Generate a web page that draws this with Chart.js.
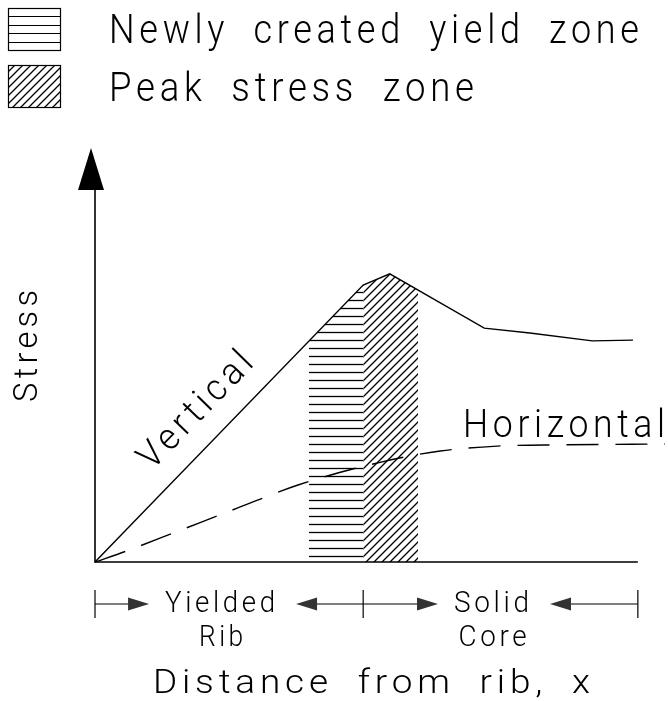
<!DOCTYPE html>
<html>
<head>
<meta charset="utf-8">
<script src="https://cdn.jsdelivr.net/npm/chart.js@4.4.1/dist/chart.umd.min.js"></script>
<style>
  html, body { margin: 0; padding: 0; background: #fff; }
  #wrap { width: 668px; height: 701px; }
</style>
</head>
<body>
<div id="wrap"><canvas id="stressChart"></canvas></div>
<script>
// stress vs distance from rib, chart units (x: 0..100 = axis length, y: 0..100 = arrow tip)
const verticalX = [0, 49.4, 54.3, 71.7, 80.1, 91.6, 99.1];
const verticalY = [0, 66.9, 69.6, 56.5, 55.3, 53.4, 53.6];
const horizontalX = [0, 5.9, 14.4, 26.2, 37.4, 52.9, 63.6, 74.1, 86.2, 105];
const horizontalY = [0, 2.7, 7.0, 13.0, 18.6, 24.2, 26.8, 28.0, 28.3, 28.5];
// hatched zones (top edge follows the vertical stress curve)
const yieldZoneX = [39.4, 49.4];
const yieldZoneY = [53.4, 66.9];
const peakZoneX = [49.4, 54.3, 59.5];
const peakZoneY = [66.9, 69.6, 65.7];
// dimension row under the axis
const regionBounds = [0, 49.4, 100];
const regionLabels = [['Yielded', 'Rib'], ['Solid', 'Core']];
const legendLabels = ['Newly created yield zone', 'Peak stress zone'];
const seriesLabels = ['Vertical', 'Horizontal'];
const xTitle = 'Distance from rib, x';
const yTitle = 'Stress';

const FONT = 'Roboto';
const canvas = document.getElementById('stressChart');

function makeHatch(kind) {
    const c = document.createElement('canvas');
    c.width = 8; c.height = 8;
    const g = c.getContext('2d');
    g.strokeStyle = '#000';
    g.lineWidth = 1.3;
    g.beginPath();
    if (kind === 'h') {
        g.moveTo(0, 4.5); g.lineTo(8, 4.5);
    } else {
        g.moveTo(-1, 9); g.lineTo(9, -1);
        g.moveTo(-1, 1); g.lineTo(1, -1);
        g.moveTo(7, 9); g.lineTo(9, 7);
    }
    g.stroke();
    return canvas.getContext('2d').createPattern(c, 'repeat');
}
const hHatch = makeHatch('h');
const dHatch = makeHatch('d');

function pts(xs, ys) {
    return xs.map((x, i) => ({ x: x, y: ys[i] }));
}

// plotter-style text: wide tracking and word gaps, fitted to the given width
function spaced(ctx, text, left, baseline, width, size) {
    ctx.save();
    ctx.font = '300 ' + size + 'px ' + FONT;
    ctx.letterSpacing = (size * 0.13) + 'px';
    ctx.wordSpacing = (size * 0.3) + 'px';
    ctx.textAlign = 'left';
    ctx.textBaseline = 'alphabetic';
    const w = ctx.measureText(text).width - size * 0.13;
    ctx.translate(left, baseline);
    ctx.scale(width / w, 1);
    ctx.fillText(text, 0, 0);
    ctx.restore();
}

function arrowHead(ctx, tipX, y, dir) {
    ctx.beginPath();
    ctx.moveTo(tipX, y);
    ctx.lineTo(tipX - dir * 21, y - 6.5);
    ctx.lineTo(tipX - dir * 21, y + 6.5);
    ctx.closePath();
    ctx.fill();
}

const decorations = {
    id: 'decorations',
    afterDraw(chart) {
        const ctx = chart.ctx;
        const xs = chart.scales.x, ys = chart.scales.y;
        const x0 = xs.getPixelForValue(0), y0 = ys.getPixelForValue(0);
        const tipY = ys.getPixelForValue(100);
        ctx.save();
        ctx.strokeStyle = '#000';
        ctx.fillStyle = '#000';
        ctx.lineWidth = 1.6;

        // axes
        ctx.beginPath();
        ctx.moveTo(x0, tipY + 40);
        ctx.lineTo(x0, y0);
        ctx.lineTo(xs.getPixelForValue(100), y0);
        ctx.stroke();
        ctx.beginPath();
        ctx.moveTo(x0 - 4, tipY);
        ctx.lineTo(x0 - 17, tipY + 42);
        ctx.lineTo(x0 + 9, tipY + 42);
        ctx.closePath();
        ctx.fill();

        // legend swatches
        ctx.lineWidth = 1.2;
        ctx.beginPath();
        for (let k = 1; k < 5; k++) {
            const yy = Math.round(8 + 42 * k / 5) + 0.5;
            ctx.moveTo(8, yy); ctx.lineTo(60, yy);
        }
        ctx.stroke();
        ctx.strokeRect(8.5, 8.5, 52, 42);
        ctx.fillStyle = dHatch;
        ctx.fillRect(8, 65, 52, 42);
        ctx.strokeRect(8.5, 65.5, 52, 42);
        ctx.fillStyle = '#000';
        spaced(ctx, legendLabels[0], 109, 43, 530, 40);
        spaced(ctx, legendLabels[1], 109, 101, 365, 40);

        // series labels
        const a = Math.atan2(ys.getPixelForValue(verticalY[1]) - y0, xs.getPixelForValue(verticalX[1]) - x0);
        ctx.save();
        ctx.translate(152, 471);
        ctx.rotate(a);
        spaced(ctx, seriesLabels[0], 0, 0, 148, 37);
        ctx.restore();
        spaced(ctx, seriesLabels[1], 463, 437, 202, 39);

        // axis titles
        ctx.save();
        ctx.translate(37, 402);
        ctx.rotate(-Math.PI / 2);
        spaced(ctx, yTitle, 0, 0, 112, 34);
        ctx.restore();
        spaced(ctx, xTitle, 153, 693, 437, 33);

        // dimension row
        const dy = 604;
        ctx.lineWidth = 1.2;
        const bx = regionBounds.map(v => xs.getPixelForValue(v));
        bx.forEach(px => {
            ctx.beginPath();
            ctx.moveTo(px, dy - 14);
            ctx.lineTo(px, dy + 14);
            ctx.stroke();
        });
        const widths = [[110, 44], [75, 68]];
        regionLabels.forEach((lab, i) => {
            const cx = (bx[i] + bx[i + 1]) / 2 - 9;
            const w1 = widths[i][0], w2 = widths[i][1];
            const l1 = cx - w1 / 2, r1 = cx + w1 / 2;
            const tipL = l1 - 16, tipR = r1 + 21;
            ctx.beginPath();
            ctx.moveTo(bx[i], dy); ctx.lineTo(tipL - 18, dy);
            ctx.moveTo(tipR + 18, dy); ctx.lineTo(bx[i + 1], dy);
            ctx.stroke();
            ctx.fillStyle = '#333';
            arrowHead(ctx, tipL, dy, 1);
            arrowHead(ctx, tipR, dy, -1);
            ctx.fillStyle = '#000';
            spaced(ctx, lab[0], l1, 612, w1, 30);
            spaced(ctx, lab[1], cx - w2 / 2 + 1, 646, w2, 30);
        });
        ctx.restore();
    }
};

new Chart(canvas, {
    type: 'line',
    data: {
        datasets: [
            {
                label: legendLabels[0],
                data: pts(yieldZoneX, yieldZoneY),
                fill: 'origin',
                backgroundColor: hHatch,
                borderColor: 'transparent',
                borderWidth: 0,
                pointRadius: 0
            },
            {
                label: legendLabels[1],
                data: pts(peakZoneX, peakZoneY),
                fill: 'origin',
                backgroundColor: dHatch,
                borderColor: 'transparent',
                borderWidth: 0,
                pointRadius: 0
            },
            {
                label: seriesLabels[0],
                data: pts(verticalX, verticalY),
                borderColor: '#000',
                borderWidth: 1.4,
                pointRadius: 0,
                fill: false
            },
            {
                label: seriesLabels[1],
                data: pts(horizontalX, horizontalY),
                borderColor: '#000',
                borderWidth: 1.4,
                borderDash: [32, 17],
                cubicInterpolationMode: 'monotone',
                pointRadius: 0,
                fill: false
            }
        ]
    },
    options: {
        responsive: true,
        maintainAspectRatio: false,
        animation: false,
        clip: false,
        layout: { padding: { left: 95, right: 3, top: 148, bottom: 139 } },
        scales: {
            x: { type: 'linear', min: 0, max: 105, display: false },
            y: { min: 0, max: 100, display: false }
        },
        plugins: {
            legend: { display: false },
            tooltip: { enabled: false }
        }
    },
    plugins: [decorations]
});
</script>
</body>
</html>
